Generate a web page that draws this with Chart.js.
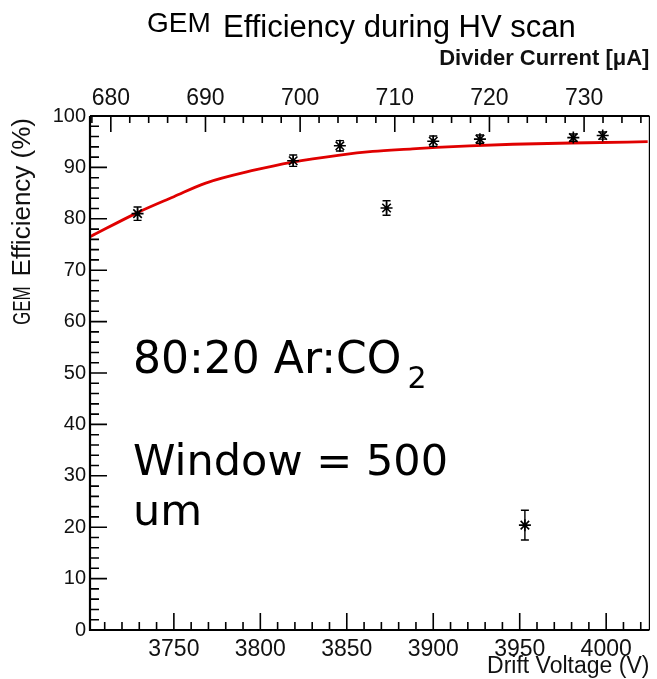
<!DOCTYPE html>
<html>
<head>
<meta charset="utf-8">
<title>GEM Efficiency during HV scan</title>
<script src="https://cdn.jsdelivr.net/npm/chart.js@4.4.1/dist/chart.umd.min.js"></script>
<style>
  html, body { margin: 0; padding: 0; background: #fff; }
  #wrap { width: 657px; height: 679px; }
</style>
</head>
<body>
<div id="wrap"><canvas id="effChart" width="657" height="679"></canvas></div>
<script>
// HV scan points: drift voltage (V), efficiency (%), error on efficiency
var driftVoltage = [3729, 3819, 3846, 3873, 3900, 3927, 3953, 3981, 3998];
var efficiency   = [81.0, 91.3, 94.2, 82.1, 95.1, 95.5, 20.4, 95.8, 96.2];
var effError     = [1.3, 1.1, 1.0, 1.4, 1.0, 0.8, 2.9, 0.7, 0.7];

// fitted efficiency curve
var fitVoltage = [3701.5, 3729, 3750, 3768, 3797, 3818, 3846, 3865, 3888, 3902, 3921, 3946, 3989, 4024];
var fitEff     = [76.5, 81.2, 84.3, 86.9, 89.5, 91.0, 92.4, 93.1, 93.6, 93.9, 94.2, 94.5, 94.8, 95.0];

// axis ranges and labelled ticks
var voltRange    = [3701.5, 4025];
var currentRange = [677.8, 736.9];
var effRange     = [0, 100];
var voltLabels    = [3750, 3800, 3850, 3900, 3950, 4000];
var currentLabels = [680, 690, 700, 710, 720, 730];
var effLabels     = [0, 10, 20, 30, 40, 50, 60, 70, 80, 90, 100];

var labelFont = "'Liberation Sans', Arial, Helvetica, sans-serif";

// build tick list with minor steps between the labelled ones
function stepTicks(from, to, step) {
    var t = [];
    for (var v = from; v <= to; v += step) {
        t.push({ value: v });
    }
    return t;
}

// ROOT style ticks pointing into the frame, plus the frame itself
var frameTicks = {
    id: "frameTicks",
    afterDraw: function (chart) {
        var ctx = chart.ctx;
        var a = chart.chartArea;
        ctx.save();
        ctx.strokeStyle = "#000";
        ctx.lineWidth = 1.6;
        ctx.beginPath();
        chart.scales.x.ticks.forEach(function (t) {
            var px = chart.scales.x.getPixelForValue(t.value);
            var len = voltLabels.indexOf(t.value) >= 0 ? 17 : 8;
            ctx.moveTo(px, a.bottom);
            ctx.lineTo(px, a.bottom - len);
        });
        chart.scales.x2.ticks.forEach(function (t) {
            var px = chart.scales.x2.getPixelForValue(t.value);
            var len = currentLabels.indexOf(t.value) >= 0 ? 16 : 7;
            ctx.moveTo(px, a.top);
            ctx.lineTo(px, a.top + len);
        });
        chart.scales.y.ticks.forEach(function (t) {
            var py = chart.scales.y.getPixelForValue(t.value);
            var len = effLabels.indexOf(t.value) >= 0 ? 17 : 9;
            ctx.moveTo(a.left, py);
            ctx.lineTo(a.left + len, py);
        });
        ctx.stroke();

        // frame: thick on left/bottom/top, thin on right
        ctx.lineWidth = 2.2;
        ctx.beginPath();
        ctx.moveTo(a.left, a.top);
        ctx.lineTo(a.left, a.bottom);
        ctx.lineTo(a.right, a.bottom);
        ctx.moveTo(a.left, a.top);
        ctx.lineTo(a.right, a.top);
        ctx.stroke();
        ctx.lineWidth = 1.2;
        ctx.beginPath();
        ctx.moveTo(a.right, a.top);
        ctx.lineTo(a.right, a.bottom);
        ctx.stroke();
        ctx.restore();
    }
};

// vertical error bars with small caps
var errorBars = {
    id: "errorBars",
    afterDatasetsDraw: function (chart) {
        var ctx = chart.ctx;
        var xs = chart.scales.x, ys = chart.scales.y;
        ctx.save();
        ctx.strokeStyle = "#000";
        ctx.lineWidth = 1.4;
        ctx.beginPath();
        for (var i = 0; i < driftVoltage.length; i++) {
            var px = xs.getPixelForValue(driftVoltage[i]);
            var yLo = ys.getPixelForValue(efficiency[i] - effError[i]);
            var yHi = ys.getPixelForValue(efficiency[i] + effError[i]);
            ctx.moveTo(px, yLo);
            ctx.lineTo(px, yHi);
            ctx.moveTo(px - 4, yLo);
            ctx.lineTo(px + 4, yLo);
            ctx.moveTo(px - 4, yHi);
            ctx.lineTo(px + 4, yHi);
        }
        ctx.stroke();
        // small dot in the middle of each asterisk
        ctx.fillStyle = "#000";
        for (var j = 0; j < driftVoltage.length; j++) {
            ctx.beginPath();
            ctx.arc(xs.getPixelForValue(driftVoltage[j]), ys.getPixelForValue(efficiency[j]), 2, 0, Math.PI * 2);
            ctx.fill();
        }
        ctx.restore();
    }
};

// plot title, y axis title and the gas / window notes inside the frame
var textLayer = {
    id: "textLayer",
    afterDraw: function (chart) {
        var ctx = chart.ctx;
        var a = chart.chartArea;
        ctx.save();
        ctx.fillStyle = "#000";
        ctx.textBaseline = "alphabetic";
        ctx.textAlign = "left";

        ctx.font = "28px " + labelFont;
        ctx.fillText("GEM", 147, 32);
        ctx.font = "31px " + labelFont;
        ctx.fillText("Efficiency during HV scan", 223, 37);

        // rotated y title, read bottom to top
        ctx.save();
        ctx.fillStyle = "#111";
        ctx.translate(30, a.top + 2);
        ctx.rotate(-Math.PI / 2);
        ctx.textAlign = "right";
        ctx.font = "26px " + labelFont;
        ctx.fillText("Efficiency (%)", 0, 0);
        var effW = ctx.measureText("Efficiency (%)").width;
        // narrower "GEM" in front of it
        ctx.translate(-effW - 10, 0);
        ctx.scale(0.7, 1);
        ctx.font = "24px " + labelFont;
        ctx.fillText("GEM", 0, 0);
        ctx.restore();

        var noteFont = "'DejaVu Sans', Verdana, sans-serif";
        ctx.font = "44px " + noteFont;
        var gas = "80:20 Ar:CO";
        ctx.fillText(gas, 133, 373);
        var w = ctx.measureText(gas).width;
        ctx.font = "30px " + noteFont;
        ctx.fillText("2", 133 + w + 6, 388);
        ctx.font = "43px " + noteFont;
        ctx.fillText("Window = 500", 133, 475);
        ctx.fillText("um", 133, 525);
        ctx.restore();
    }
};

var ctx0 = document.getElementById("effChart");
var myChart = new Chart(ctx0, {
    type: "scatter",
    data: {
        datasets: [
            {
                label: "Efficiency",
                data: driftVoltage.map(function (v, i) { return { x: v, y: efficiency[i] }; }),
                pointStyle: "star",
                pointRadius: 6,
                pointBorderWidth: 1.6,
                borderColor: "#000",
                backgroundColor: "#000",
                showLine: false,
                xAxisID: "x",
                yAxisID: "y"
            },
            {
                label: "Fit",
                data: fitVoltage.map(function (v, i) { return { x: v, y: fitEff[i] }; }),
                showLine: true,
                borderColor: "#e00000",
                borderWidth: 2.8,
                pointRadius: 0,
                cubicInterpolationMode: "monotone",
                xAxisID: "x",
                yAxisID: "y"
            }
        ]
    },
    options: {
        responsive: false,
        animation: false,
        devicePixelRatio: 1,
        layout: { padding: { left: 0, right: 7, top: 0, bottom: 0 } },
        plugins: {
            legend: { display: false },
            tooltip: { enabled: false }
        },
        scales: {
            x: {
                type: "linear",
                position: "bottom",
                min: voltRange[0],
                max: voltRange[1],
                grid: { display: false, drawTicks: false },
                border: { display: false },
                afterBuildTicks: function (s) { s.ticks = stepTicks(3710, 4020, 10); },
                afterFit: function (s) { s.height = 49; },
                ticks: {
                    autoSkip: false,
                    maxRotation: 0,
                    padding: 6,
                    color: "#111",
                    font: { family: labelFont, size: 23 },
                    callback: function (v) { return voltLabels.indexOf(v) >= 0 ? String(v) : ""; }
                },
                title: {
                    display: true,
                    text: "Drift Voltage (V)",
                    align: "end",
                    color: "#111",
                    font: { family: labelFont, size: 23 },
                    padding: { top: 0, bottom: -1 }
                }
            },
            x2: {
                type: "linear",
                position: "top",
                min: currentRange[0],
                max: currentRange[1],
                grid: { display: false, drawTicks: false },
                border: { display: false },
                afterBuildTicks: function (s) { s.ticks = stepTicks(678, 736, 2); },
                afterFit: function (s) { s.height = 116; },
                ticks: {
                    autoSkip: false,
                    maxRotation: 0,
                    padding: 4,
                    color: "#111",
                    font: { family: labelFont, size: 23 },
                    callback: function (v) { return currentLabels.indexOf(v) >= 0 ? String(v) : ""; }
                },
                title: {
                    display: true,
                    text: "Divider Current [\u03BCA]",
                    align: "end",
                    color: "#111",
                    font: { family: labelFont, size: 22, weight: "bold" },
                    padding: { top: 46, bottom: 0 }
                }
            },
            y: {
                type: "linear",
                position: "left",
                min: effRange[0],
                max: effRange[1],
                grid: { display: false, drawTicks: false },
                border: { display: false },
                afterBuildTicks: function (s) { s.ticks = stepTicks(0, 100, 2); },
                afterFit: function (s) { s.width = 90; },
                ticks: {
                    autoSkip: false,
                    padding: 4,
                    color: "#111",
                    font: { family: labelFont, size: 20 },
                    callback: function (v) { return effLabels.indexOf(v) >= 0 ? String(v) : ""; }
                },
                title: { display: false }
            }
        }
    },
    plugins: [frameTicks, errorBars, textLayer]
});
</script>
</body>
</html>
